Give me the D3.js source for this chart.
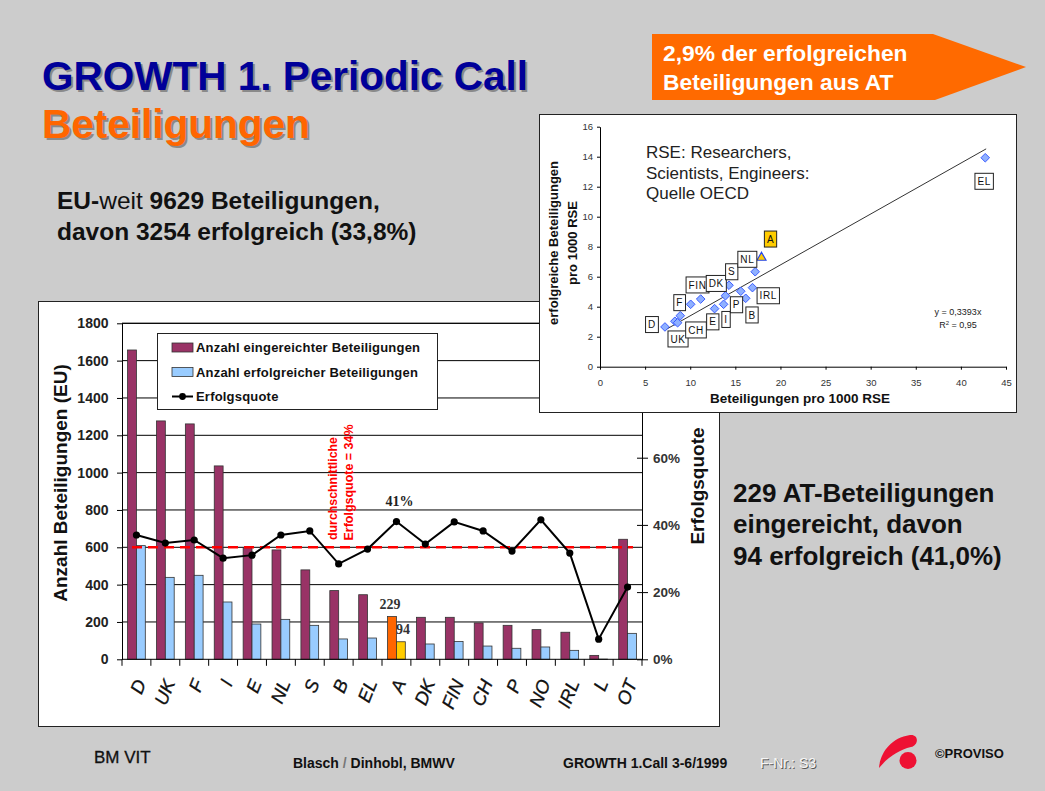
<!DOCTYPE html>
<html>
<head>
<meta charset="utf-8">
<script src="https://cdn.jsdelivr.net/npm/d3@7"></script>
<style>
  body { margin: 0; background: #cccccc; }
  svg { display: block; font-family: "Liberation Sans", Arial, sans-serif; }
</style>
</head>
<body>
<script>
// ---- bar chart data ----
let countries  = ["D","UK","F","I","E","NL","S","B","EL","A","DK","FIN","CH","P","NO","IRL","L","OT"];
let submitted  = [1657, 1277, 1261, 1036, 598, 586, 479, 368, 346, 229, 225, 225, 195, 182, 159, 145, 21, 643];
let successful = [609, 439, 450, 307, 189, 214, 182, 109, 114, 94, 82, 95, 71, 59, 66, 48, 1, 139];
let successRate = [37.0, 34.6, 35.5, 30.1, 31.0, 37.0, 38.2, 28.4, 32.8, 41.0, 34.3, 40.9, 38.2, 32.2, 41.5, 31.6, 6.0, 21.5];
let avgLine = 600;
let leftTicks = [0, 200, 400, 600, 800, 1000, 1200, 1400, 1600, 1800];
let rightTicks = [0, 20, 40, 60];
let legendNames = ["Anzahl eingereichter Beteiligungen", "Anzahl erfolgreicher Beteiligungen", "Erfolgsquote"];

// ---- scatter inset data ----
let rseX = [7.2, 8.3, 8.6, 8.9, 10.05, 11.16, 12.7, 13.7, 13.9, 14.3, 15.6, 16.15, 16.9, 17.2, 42.7];
let rseY = [2.65, 3.03, 2.93, 3.4, 4.16, 4.51, 3.87, 4.16, 4.73, 5.43, 5.03, 4.56, 5.27, 6.33, 13.93];
let rseA = [17.9, 7.33];
let fitSlope = 0.3393;
let fitFrom = 7.3, fitTo = 42.8;
let labelText = ["D","UK","CH","F","FIN","DK","S","NL","A","E","I","P","B","IRL","EL"];
let labelX = [5.76, 8.65, 10.64, 8.83, 10.81, 12.89, 14.6, 16.33, 18.9, 12.5, 13.97, 15.13, 16.85, 18.65, 42.58];
let labelY = [2.81, 1.85, 2.45, 4.27, 5.45, 5.55, 6.33, 7.16, 8.51, 2.99, 3.15, 4.13, 3.45, 4.73, 12.36];
let scatterXTicks = d3.range(0, 46, 5);
let scatterYTicks = d3.range(0, 17, 2);

let svg = d3.select("body").append("svg")
    .attr("width", 1045)
    .attr("height", 791);

svg.append("rect").attr("width", 1045).attr("height", 791).attr("fill", "#cccccc");

// title with a soft shadow
function shadowText(x, y, txt, size, color) {
    svg.append("text").attr("x", x + 2).attr("y", y + 2)
        .style("font-size", size + "px").style("font-weight", "bold")
        .attr("fill", "#8a8a8a").text(txt);
    svg.append("text").attr("x", x).attr("y", y)
        .style("font-size", size + "px").style("font-weight", "bold")
        .attr("fill", color).text(txt);
}
shadowText(42, 90, "GROWTH 1. Periodic Call", 40.5, "#000099");
shadowText(42, 138, "Beteiligungen", 40.5, "#ff6600");

let eu = svg.append("g").style("font-size", "24.5px").style("font-weight", "bold").attr("fill", "#111");
let eu1 = eu.append("text").attr("x", 57).attr("y", 209);
eu1.append("tspan").text("EU-");
eu1.append("tspan").style("font-weight", "normal").text("weit");
eu1.append("tspan").text(" 9629 Beteiligungen,");
eu.append("text").attr("x", 57).attr("y", 240).text("davon 3254 erfolgreich (33,8%)");

// orange arrow
svg.append("polygon")
    .attr("points", "652,34 933,34 1026,67 935,100 652,100")
    .attr("fill", "#ff6a00");
svg.append("text").attr("x", 663).attr("y", 61).attr("fill", "#fff")
    .style("font-size", "22.8px").style("font-weight", "bold").text("2,9% der erfolgreichen");
svg.append("text").attr("x", 663).attr("y", 90).attr("fill", "#fff")
    .style("font-size", "22.8px").style("font-weight", "bold").text("Beteiligungen aus AT");

let at = svg.append("g").style("font-size", "26px").style("font-weight", "bold").attr("fill", "#111");
at.append("text").attr("x", 733).attr("y", 502).text("229 AT-Beteiligungen");
at.append("text").attr("x", 733).attr("y", 533).text("eingereicht, davon");
at.append("text").attr("x", 733).attr("y", 565).text("94 erfolgreich (41,0%)");

// ================= bar chart =================
svg.append("rect").attr("x", 38.5).attr("y", 301.5).attr("width", 681).attr("height", 425)
    .attr("fill", "#fff").attr("stroke", "#222");

let plotL = 122, plotR = 642, plotT = 323.3, plotB = 659.3;

let x = d3.scaleBand().domain(countries).range([plotL, plotR]);
let x1 = d3.scaleBand().domain([0, 1]).range([0, x.bandwidth()]).paddingOuter(0.63);
let yL = d3.scaleLinear().domain([0, 1800]).range([plotB, plotT]);
let yR = d3.scaleLinear().domain([0, 100]).range([plotB, plotT]);

let bars = svg.append("g");

// gridlines
bars.selectAll(".grid").data(leftTicks.slice(1)).enter().append("line")
    .attr("x1", plotL).attr("x2", plotR)
    .attr("y1", d => yL(d)).attr("y2", d => yL(d))
    .attr("stroke", "#000").attr("stroke-width", 1);

let rows = countries.map((c, i) => ({c: c, sub: submitted[i], suc: successful[i], rate: successRate[i]}));

bars.selectAll(".sub").data(rows).enter().append("rect")
    .attr("x", d => x(d.c) + x1(0))
    .attr("width", x1.bandwidth())
    .attr("y", d => yL(d.sub))
    .attr("height", d => plotB - yL(d.sub))
    .attr("fill", d => d.c === "A" ? "#ff6600" : "#993366")
    .attr("stroke", "#333").attr("stroke-width", 0.8);

bars.selectAll(".suc").data(rows).enter().append("rect")
    .attr("x", d => x(d.c) + x1(1))
    .attr("width", x1.bandwidth())
    .attr("y", d => yL(d.suc))
    .attr("height", d => plotB - yL(d.suc))
    .attr("fill", d => d.c === "A" ? "#ffcc00" : "#99ccff")
    .attr("stroke", "#333").attr("stroke-width", 0.8);

// average line
bars.append("line")
    .attr("x1", 132).attr("x2", 633)
    .attr("y1", yL(avgLine)).attr("y2", yL(avgLine))
    .attr("stroke", "#ff0000").attr("stroke-width", 2.5)
    .attr("stroke-dasharray", "10,6");

// success rate line
let rateLine = d3.line()
    .x(d => x(d.c) + x.bandwidth() / 2)
    .y(d => yR(d.rate));
bars.append("path").attr("d", rateLine(rows))
    .attr("fill", "none").attr("stroke", "#000").attr("stroke-width", 2);
bars.selectAll(".dot").data(rows).enter().append("circle")
    .attr("cx", d => x(d.c) + x.bandwidth() / 2)
    .attr("cy", d => yR(d.rate))
    .attr("r", 3.6).attr("fill", "#000");

// axes
let axL = bars.append("g").attr("transform", "translate(" + plotL + ",0)")
    .call(d3.axisLeft(yL).tickValues(leftTicks).tickFormat(d3.format("d"))
        .tickSize(5).tickSizeOuter(0).tickPadding(8.5));
axL.selectAll("text").style("font-size", "14px").style("font-weight", "bold")
    .style("font-family", "'Liberation Sans', Arial, sans-serif").attr("fill", "#222");
axL.select(".domain").attr("stroke", "#000");

let axR = bars.append("g").attr("transform", "translate(" + plotR + ",0)")
    .call(d3.axisRight(yR).tickValues(rightTicks).tickSize(6).tickSizeOuter(0).tickPadding(5)
        .tickFormat(d => d + "%"));
axR.selectAll(".tick line").attr("x1", -5);
axR.selectAll("text").style("font-size", "13.5px").style("font-weight", "bold")
    .style("font-family", "'Liberation Sans', Arial, sans-serif").attr("fill", "#333");
axR.select(".domain").attr("stroke", "#000");

// bottom axis: baseline and ticks between categories
bars.append("line").attr("x1", plotL).attr("x2", plotR).attr("y1", plotB).attr("y2", plotB)
    .attr("stroke", "#000");
bars.append("line").attr("x1", plotL).attr("x2", plotR).attr("y1", plotT).attr("y2", plotT)
    .attr("stroke", "#000");
bars.selectAll(".xt").data(countries.concat(["end"])).enter().append("line")
    .attr("x1", d => d === "end" ? plotR : x(d))
    .attr("x2", d => d === "end" ? plotR : x(d))
    .attr("y1", plotB).attr("y2", plotB + 6.5)
    .attr("stroke", "#000");

bars.selectAll(".xl").data(countries).enter().append("text")
    .attr("transform", d => "translate(" + (x(d) + x.bandwidth() / 2 + 4) + "," + (plotB + 21) + ") rotate(-68)")
    .attr("text-anchor", "end")
    .attr("dy", "0.35em")
    .style("font-size", "18.5px").style("font-style", "italic")
    .attr("fill", "#111").attr("stroke", "#111").attr("stroke-width", 0.3)
    .text(d => d);

// axis titles
svg.append("text")
    .attr("transform", "translate(67,483) rotate(-90)")
    .attr("text-anchor", "middle")
    .style("font-size", "19px").style("font-weight", "bold").attr("fill", "#111")
    .text("Anzahl Beteiligungen (EU)");
svg.append("text")
    .attr("transform", "translate(703.5,486) rotate(-90)")
    .attr("text-anchor", "middle")
    .style("font-size", "19px").style("font-weight", "bold").attr("fill", "#111")
    .text("Erfolgsquote");

// red annotation for the average
let redT = svg.append("g").attr("fill", "#ff0000").style("font-size", "13px").style("font-weight", "bold");
redT.append("text").attr("transform", "translate(337,540) rotate(-90)")
    .attr("textLength", 103).attr("lengthAdjust", "spacingAndGlyphs")
    .text("durchschnittliche");
redT.append("text").attr("transform", "translate(353,540.5) rotate(-90)")
    .attr("textLength", 116).attr("lengthAdjust", "spacingAndGlyphs")
    .text("Erfolgsquote = 34%");

// data labels for A
let aRow = rows[countries.indexOf("A")];
let serif = "'Liberation Serif', 'Times New Roman', serif";
svg.append("text")
    .attr("x", x("A") + x.bandwidth() / 2 + 3).attr("y", yR(aRow.rate) - 16)
    .attr("text-anchor", "middle").style("font-family", serif)
    .style("font-size", "14px").style("font-weight", "bold").attr("fill", "#222")
    .text(Math.round(aRow.rate) + "%");
svg.append("text")
    .attr("x", x("A") + x1(0) + x1.bandwidth() / 2 - 2).attr("y", yL(aRow.sub) - 8)
    .attr("text-anchor", "middle").style("font-family", serif)
    .style("font-size", "14px").style("font-weight", "bold").attr("fill", "#333")
    .text(aRow.sub);
svg.append("text")
    .attr("x", x("A") + x1(1) + x1.bandwidth() / 2 + 2).attr("y", yL(aRow.suc) - 8)
    .attr("text-anchor", "middle").style("font-family", serif)
    .style("font-size", "14px").style("font-weight", "bold").attr("fill", "#333")
    .text(aRow.suc);

// legend
let leg = svg.append("g");
leg.append("rect").attr("x", 157.5).attr("y", 333.5).attr("width", 280).attr("height", 76)
    .attr("fill", "#fff").attr("stroke", "#222");
let legColors = ["#993366", "#99ccff"];
legendNames.forEach(function(name, i) {
    let cy = 347.5 + i * 24.5;
    if (i < 2) {
        leg.append("rect").attr("x", 172).attr("y", cy - 4.5).attr("width", 21).attr("height", 9)
            .attr("fill", legColors[i]).attr("stroke", "#333").attr("stroke-width", 0.8);
    } else {
        leg.append("line").attr("x1", 172).attr("x2", 193).attr("y1", cy).attr("y2", cy)
            .attr("stroke", "#000").attr("stroke-width", 2);
        leg.append("circle").attr("cx", 182.5).attr("cy", cy).attr("r", 3.4).attr("fill", "#000");
    }
    leg.append("text").attr("x", 196).attr("y", cy + 4.5)
        .style("font-size", "13px").style("font-weight", "bold").style("letter-spacing", "0.2px")
        .attr("fill", "#111").text(name);
});

// ================= scatter inset =================
let sc = svg.append("g");
sc.append("rect").attr("x", 539.5).attr("y", 114.5).attr("width", 477).attr("height", 298)
    .attr("fill", "#fff").attr("stroke", "#222");

let xS = d3.scaleLinear().domain([0, 45]).range([600, 1006]);
let yS = d3.scaleLinear().domain([0, 16]).range([366.7, 126.7]);

let axSX = sc.append("g").attr("transform", "translate(0,366.7)")
    .call(d3.axisBottom(xS).tickValues(scatterXTicks).tickSize(3).tickSizeOuter(0).tickPadding(10));
let axSY = sc.append("g").attr("transform", "translate(600,0)")
    .call(d3.axisLeft(yS).tickValues(scatterYTicks).tickSize(3).tickSizeOuter(0).tickPadding(4));
[axSX, axSY].forEach(function(a) {
    a.selectAll("text").style("font-size", "9.5px")
        .style("font-family", "'Liberation Sans', Arial, sans-serif").attr("fill", "#333");
    a.select(".domain").attr("stroke", "#000");
});

sc.append("text").attr("x", 800).attr("y", 403)
    .attr("text-anchor", "middle")
    .style("font-size", "13.5px").style("font-weight", "bold").attr("fill", "#111")
    .text("Beteiligungen pro 1000 RSE");
sc.append("text").attr("transform", "translate(558,243) rotate(-90)")
    .attr("text-anchor", "middle")
    .style("font-size", "13px").style("font-weight", "bold").attr("fill", "#111")
    .text("erfolgreiche Beteiligungen");
sc.append("text").attr("transform", "translate(576.5,243) rotate(-90)")
    .attr("text-anchor", "middle")
    .style("font-size", "13px").style("font-weight", "bold").attr("fill", "#111")
    .text("pro 1000 RSE");

let note = ["RSE: Researchers,", "Scientists, Engineers:", "Quelle OECD"];
note.forEach(function(t, i) {
    sc.append("text").attr("x", 646).attr("y", 157.7 + i * 20.8)
        .style("font-size", "17px").attr("fill", "#222").text(t);
});

// trend line
sc.append("line")
    .attr("x1", xS(fitFrom)).attr("y1", yS(fitSlope * fitFrom))
    .attr("x2", xS(fitTo)).attr("y2", yS(fitSlope * fitTo))
    .attr("stroke", "#333").attr("stroke-width", 1);

sc.append("text").attr("x", 958).attr("y", 315).attr("text-anchor", "middle")
    .style("font-size", "9px").attr("fill", "#222").text("y = 0,3393x");
let r2 = sc.append("text").attr("x", 958).attr("y", 328.3).attr("text-anchor", "middle")
    .style("font-size", "9px").attr("fill", "#222");
r2.append("tspan").text("R");
r2.append("tspan").attr("dy", -3).style("font-size", "6px").text("2");
r2.append("tspan").attr("dy", 3).text(" = 0,95");

// points
let pts = rseX.map((v, i) => [v, rseY[i]]);
sc.selectAll(".pt").data(pts).enter().append("path")
    .attr("transform", d => "translate(" + xS(d[0]) + "," + yS(d[1]) + ")")
    .attr("d", "M0,-4.3L4.3,0L0,4.3L-4.3,0Z")
    .attr("fill", "#8fb0ff").attr("stroke", "#3a5cff").attr("stroke-width", 1);
sc.append("path")
    .attr("transform", "translate(" + xS(rseA[0]) + "," + yS(rseA[1]) + ")")
    .attr("d", "M0,-4.5L4.5,3.5L-4.5,3.5Z")
    .attr("fill", "#ffcc00").attr("stroke", "#2244ee").attr("stroke-width", 1.2);

// labels in boxes
labelText.forEach(function(t, i) {
    let g = sc.append("g").attr("transform", "translate(" + xS(labelX[i]) + "," + yS(labelY[i]) + ")");
    let r = g.append("rect");
    let tx = g.append("text").attr("text-anchor", "middle").attr("dy", "0.36em")
        .style("font-size", "10px").style("letter-spacing", "0.6px").attr("fill", "#111").text(t);
    let w = tx.node().getComputedTextLength() + 5;
    r.attr("x", -w / 2).attr("y", -8).attr("width", w).attr("height", 16)
        .attr("fill", t === "A" ? "#ffcc00" : "#fff").attr("stroke", "#222").attr("stroke-width", 1);
});

// ================= footer =================
svg.append("text").attr("x", 94).attr("y", 763)
    .style("font-size", "17px").attr("fill", "#111").attr("stroke", "#111").attr("stroke-width", 0.3)
    .text("BM VIT");
let bl = svg.append("text").attr("x", 293).attr("y", 768)
    .style("font-size", "14px").style("font-weight", "bold").attr("fill", "#111");
bl.append("tspan").text("Blasch ");
bl.append("tspan").attr("fill", "#777").text("/");
bl.append("tspan").text(" Dinhobl, BMWV");
svg.append("text").attr("x", 563).attr("y", 768)
    .style("font-size", "14px").style("font-weight", "bold").attr("fill", "#111")
    .text("GROWTH 1.Call 3-6/1999");
svg.append("text").attr("x", 761).attr("y", 769)
    .style("font-size", "14px").attr("fill", "#555").text("F-Nr.: S3");
svg.append("text").attr("x", 760).attr("y", 768)
    .style("font-size", "14px").attr("fill", "#f6f6f6").text("F-Nr.: S3");

// logo
svg.append("path")
    .attr("d", "M879,768 C880,754 890,738 910,735 C919,734 919,745 911,747 C899,750 888,757 879,768 Z")
    .attr("fill", "#ee1133");
svg.append("circle").attr("cx", 908).attr("cy", 760.5).attr("r", 8.5).attr("fill", "#ee1133");
svg.append("text").attr("x", 935).attr("y", 758)
    .style("font-size", "13px").style("font-weight", "bold").attr("fill", "#111")
    .text("©PROVISO");
</script>
</body>
</html>
